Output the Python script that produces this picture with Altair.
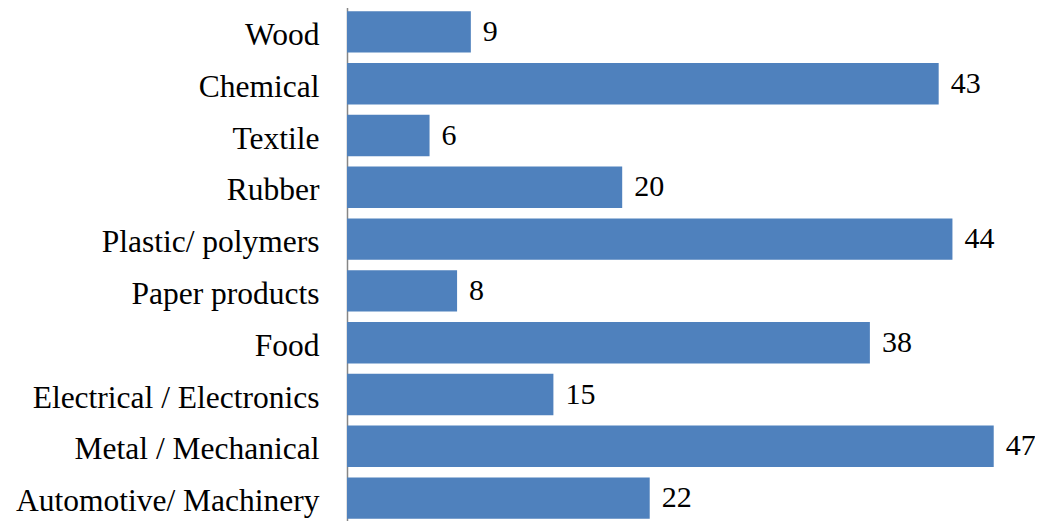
import altair as alt
import pandas as pd

categories = ["Wood", "Chemical", "Textile", "Rubber", "Plastic/ polymers",
              "Paper products", "Food", "Electrical / Electronics",
              "Metal / Mechanical", "Automotive/ Machinery"]
values = [9, 43, 6, 20, 44, 8, 38, 15, 47, 22]

df = pd.DataFrame({"category": categories, "value": values})

FONT = "Times New Roman, Liberation Serif, serif"

y_enc = alt.Y("category:N", sort=categories, title=None,
              scale=alt.Scale(paddingInner=0.2, paddingOuter=0.1, range=[-2, 516]),
              axis=alt.Axis(labelFont=FONT, labelFontSize=31.5, labelColor="black",
                            labelPadding=28, labelLimit=0, ticks=False,
                            domainColor="#868686", domainWidth=1.5,
                            labelOffset=4))
x_enc = alt.X("value:Q", title=None, axis=None,
              scale=alt.Scale(domain=[0, 50], nice=False))

bars = alt.Chart(df).mark_bar(color="#4F81BD").encode(y=y_enc, x=x_enc)
labels = alt.Chart(df).mark_text(align="left", baseline="middle", dx=12,
                                 font=FONT, fontSize=30, color="black").encode(
    y=alt.Y("category:N", sort=categories), x="value:Q", text="value:Q")

chart = (bars + labels).properties(
    width=688, height=513,
    autosize=alt.AutoSizeParams(type="none"),
    padding={"left": 339, "top": 0, "right": 0, "bottom": 0},
).configure_view(stroke=None)

chart.save("out.html", embed_options={"renderer": "svg", "actions": False})
